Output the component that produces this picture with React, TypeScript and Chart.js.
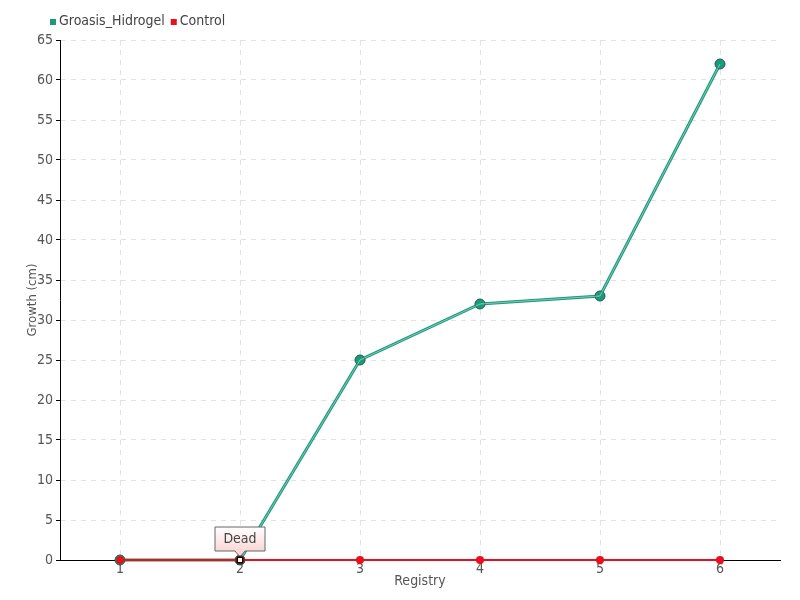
import React, { useEffect, useRef } from "react";
import { Chart, registerables } from "chart.js";

Chart.register(...registerables);

const categories = ["1", "2", "3", "4", "5", "6"];
const groasisValues = [0, 0, 25, 32, 33, 62];
const controlValues = [0, 0, 0, 0, 0, 0];
const seriesNames = ["Groasis_Hidrogel", "Control"];
const annotationText = "Dead";
const annotationIndex = 1;

const FONT = "'DejaVu Sans Condensed', 'Liberation Sans Narrow', 'DejaVu Sans', sans-serif";
const TEAL = "#1a9a7a";
const RED = "#e8101e";

const legendPlugin = {
  id: "customLegend",
  afterDraw(chart: any) {
    const ctx = chart.ctx;
    ctx.save();
    ctx.font = `14px ${FONT}`;
    ctx.textBaseline = "middle";
    let x = 50;
    const y = 21;
    const colors = [TEAL, RED];
    seriesNames.forEach((name, i) => {
      ctx.fillStyle = colors[i];
      ctx.fillRect(x, y - 2, 6, 6);
      x += 9;
      ctx.fillStyle = "#444";
      ctx.fillText(name, x, y);
      x += ctx.measureText(name).width + 6;
    });
    ctx.restore();
  },
};

const annotationPlugin = {
  id: "deadNote",
  afterDatasetsDraw(chart: any) {
    const ctx = chart.ctx;
    const meta = chart.getDatasetMeta(1);
    const pt = meta.data[annotationIndex];
    if (!pt) return;
    const px = pt.x;
    const py = pt.y;
    ctx.save();
    ctx.font = `14px ${FONT}`;
    const w = 50;
    const h = 24;
    const left = px - 25;
    const top = py - 33;
    const bottom = top + h;
    const grad = ctx.createLinearGradient(0, top, 0, bottom);
    grad.addColorStop(0, "#ffffff");
    grad.addColorStop(1, "#fbd7d7");
    ctx.beginPath();
    ctx.moveTo(left, top);
    ctx.lineTo(left + w, top);
    ctx.lineTo(left + w, bottom);
    ctx.lineTo(px + 5, bottom);
    ctx.lineTo(px, bottom + 6);
    ctx.lineTo(px - 5, bottom);
    ctx.lineTo(left, bottom);
    ctx.closePath();
    ctx.fillStyle = grad;
    ctx.fill();
    ctx.strokeStyle = "#666";
    ctx.lineWidth = 1;
    ctx.stroke();
    ctx.fillStyle = "#444";
    ctx.textAlign = "center";
    ctx.textBaseline = "middle";
    ctx.fillText(annotationText, left + w / 2, top + h / 2);
    ctx.beginPath();
    ctx.arc(px, py, 4.5, 0, Math.PI * 2);
    ctx.fillStyle = "#7a0a0a";
    ctx.fill();
    ctx.fillStyle = "#000";
    ctx.fillRect(px - 3, py - 3, 6, 6);
    ctx.fillStyle = "#fff";
    ctx.fillRect(px - 2, py - 2, 4, 4);
    ctx.restore();
  },
};

export default function App() {
  const ref = useRef<HTMLCanvasElement>(null);
  useEffect(() => {
    const chart = new Chart(ref.current!, {
      type: "line",
      data: {
        labels: categories,
        datasets: [
          {
            label: seriesNames[0],
            data: groasisValues,
            borderColor: TEAL,
            backgroundColor: TEAL,
            borderWidth: 3,
            pointRadius: 5,
            pointBackgroundColor: TEAL,
            pointBorderColor: "#17604e",
            pointBorderWidth: 1,
            tension: 0,
            order: 2,
            clip: false,
          },
          {
            label: seriesNames[1],
            data: controlValues,
            borderColor: RED,
            backgroundColor: RED,
            borderWidth: 2,
            pointRadius: 4,
            pointBackgroundColor: RED,
            pointBorderColor: RED,
            pointBorderWidth: 0,
            tension: 0,
            order: 0,
            clip: false,
          },
          {
            label: "overlay",
            data: groasisValues,
            borderColor: "rgba(255,255,255,0.45)",
            borderWidth: 1,
            pointRadius: 0,
            tension: 0,
            order: 1,
            clip: false,
          },
        ],
      },
      options: {
        animation: false,
        responsive: false,
        layout: { padding: { top: 40, right: 20, left: 0, bottom: 10 } },
        plugins: {
          legend: { display: false },
          tooltip: { enabled: false },
        },
        scales: {
          x: {
            offset: true,
            afterFit: (s: any) => {
              s.height = 30;
            },
            grid: {
              color: "#e2e2e2",
              tickColor: "#000",
              tickLength: 3,
              offset: false,
            },
            border: { color: "#000", width: 1, dash: [5, 5] },
            ticks: { color: "#555", font: { family: FONT, size: 14 }, padding: -2 },
            title: {
              display: true,
              text: "Registry",
              color: "#555",
              font: { family: FONT, size: 14 },
              padding: { top: 0, bottom: 0 },
            },
          },
          y: {
            min: 0,
            max: 65,
            afterFit: (s: any) => {
              s.width = 60;
            },
            grid: {
              color: "#e2e2e2",
              tickColor: "#000",
              tickLength: 4,
            },
            border: { color: "#000", width: 1, dash: [5, 5] },
            ticks: { stepSize: 5, color: "#555", font: { family: FONT, size: 14 }, padding: 3 },
            title: {
              display: true,
              text: "Growth (cm)",
              color: "#555",
              font: { family: FONT, size: 13 },
              padding: { top: 25, bottom: 0 },
            },
          },
        },
      },
      plugins: [legendPlugin, annotationPlugin],
    });
    return () => chart.destroy();
  }, []);
  return (
    <div style={{ position: "fixed", left: 0, top: 0, width: 800, height: 600, background: "#fff" }}>
      <canvas ref={ref} width={800} height={600} style={{ width: 800, height: 600 }} />
    </div>
  );
}
